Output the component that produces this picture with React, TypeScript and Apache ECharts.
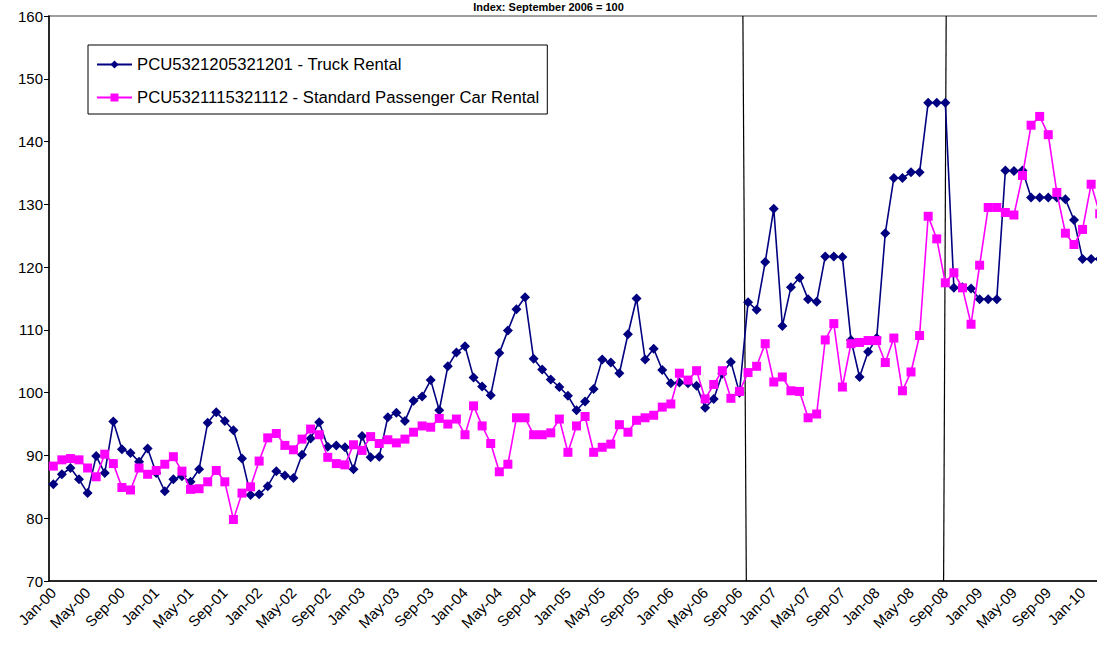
import React, { useEffect, useRef } from "react";
import * as echarts from "echarts";

const TITLE = "Index: September 2006 = 100";
const TRUCK_NAME = "PCU5321205321201 - Truck Rental";
const CAR_NAME = "PCU5321115321112 - Standard Passenger Car Rental";

const MONTHS = ["Jan", "Feb", "Mar", "Apr", "May", "Jun", "Jul", "Aug", "Sep", "Oct", "Nov", "Dec"];
const YEARS = ["00", "01", "02", "03", "04", "05", "06", "07", "08", "09", "10"];
const MONTH_COUNT = 123; // Jan-00 .. Mar-10

const categories: string[] = [];
for (let i = 0; i < MONTH_COUNT; i++) {
  categories.push(MONTHS[i % 12] + "-" + YEARS[Math.floor(i / 12)]);
}

const truck = [
  85.4, 87.0, 88.0, 86.2, 84.0, 89.9, 87.2, 95.4, 91.0, 90.4, 89.0, 91.1,
  87.2, 84.3, 86.2, 86.7, 85.8, 87.8, 95.2, 96.9, 95.5, 94.0, 89.5, 83.7,
  83.8, 85.1, 87.5, 86.8, 86.4, 90.1, 92.7, 95.3, 91.4, 91.6, 91.3, 87.8,
  93.1, 89.7, 89.8, 96.1, 96.8, 95.5, 98.7, 99.4, 102.0, 97.2, 104.2, 106.4,
  107.4, 102.4, 101.0, 99.6, 106.3, 109.9, 113.3, 115.2, 105.4, 103.7, 102.1, 100.9,
  99.5, 97.2, 98.6, 100.6, 105.3, 104.8, 103.1, 109.3, 115.0, 105.3, 107.0, 103.6,
  101.5, 101.6, 101.5, 101.1, 97.6, 99.0, 103.0, 104.9, 100.0, 114.4, 113.2, 120.8,
  129.3, 110.6, 116.8, 118.3, 114.9, 114.5, 121.7, 121.7, 121.6, 108.4, 102.5, 106.5,
  108.7, 125.4, 134.2, 134.2, 135.1, 135.1, 146.2, 146.2, 146.2, 116.7, 116.8, 116.6,
  114.9, 114.9, 114.9, 135.4, 135.3, 135.4, 131.1, 131.1, 131.1, 131.1, 130.8, 127.5,
  121.3, 121.3, 121.3,
];

const car = [
  88.3, 89.3, 89.5, 89.3, 88.0, 86.6, 90.2, 88.7, 84.9, 84.5, 88.0, 87.0,
  87.6, 88.6, 89.8, 87.5, 84.6, 84.7, 85.8, 87.6, 85.8, 79.8, 84.0, 85.0,
  89.1, 92.8, 93.5, 91.6, 90.9, 92.6, 94.2, 93.3, 89.7, 88.7, 88.5, 91.7,
  90.8, 93.0, 91.9, 92.5, 92.0, 92.6, 93.7, 94.7, 94.5, 95.9, 95.0, 95.8,
  93.3, 97.9, 94.7, 91.9, 87.4, 88.6, 96.0, 96.0, 93.3, 93.3, 93.6, 95.8,
  90.5, 94.7, 96.2, 90.5, 91.3, 91.8, 94.9, 93.7, 95.6, 96.0, 96.4, 97.7,
  98.2, 103.1, 102.0, 103.5, 99.0, 101.3, 103.5, 99.1, 100.2, 103.2, 104.2, 107.8,
  101.7, 102.5, 100.3, 100.2, 96.0, 96.6, 108.4, 111.0, 100.9, 107.8, 108.0, 108.3,
  108.3, 104.8, 108.7, 100.3, 103.3, 109.1, 128.1, 124.5, 117.5, 119.1, 116.7, 110.9,
  120.3, 129.5, 129.5, 128.7, 128.3, 134.6, 142.6, 144.0, 141.1, 131.9, 125.4, 123.6,
  126.0, 133.2, 128.5,
];

// Hand-drawn vertical marker lines, in month-position units (0 = left edge of Jan-00)
const markerLine1 = [[80.9, 160], [81.3, 70]];
const markerLine2 = [[104.6, 160], [104.3, 70]];

const FONT = "'Liberation Sans', Arial, sans-serif";

export default function App() {
  const ref = useRef<HTMLDivElement>(null);
  useEffect(() => {
    const chart = echarts.init(ref.current!, null, { renderer: "svg" });
    chart.setOption({
      animation: false,
      backgroundColor: "#ffffff",
      textStyle: { fontFamily: FONT },
      title: {
        text: TITLE,
        left: "center",
        top: -4,
        textStyle: { fontSize: 11, fontWeight: "bold", color: "#000", fontFamily: FONT },
      },
      legend: {
        data: [TRUCK_NAME, CAR_NAME],
        orient: "vertical",
        left: 88,
        top: 45,
        padding: [11, 8, 8, 8],
        itemGap: 16,
        itemWidth: 35,
        itemHeight: 10,
        backgroundColor: "#fff",
        borderColor: "#000",
        borderWidth: 1,
        textStyle: { fontSize: 16.7, color: "#000", fontFamily: FONT },
      },
      grid: {
        left: 49,
        width: 1055,
        top: 16,
        bottom: 68,
        containLabel: false,
        outerBoundsMode: "none",
        show: true,
        borderColor: "#808080",
        borderWidth: 1.5,
        backgroundColor: "transparent",
      },
      xAxis: [
        {
          type: "category",
          data: categories,
          boundaryGap: true,
          axisLine: { lineStyle: { color: "#000", width: 1.5 } },
          axisTick: { interval: 3, length: 5, lineStyle: { color: "#000", width: 1 } },
          axisLabel: { interval: 3, rotate: 45, fontSize: 15, color: "#000", margin: 9, fontFamily: FONT },
          splitLine: { show: false },
        },
        {
          type: "value",
          min: 0,
          max: MONTH_COUNT,
          show: false,
          position: "bottom",
        },
      ],
      yAxis: {
        type: "value",
        min: 70,
        max: 160,
        interval: 10,
        axisLine: { show: true, lineStyle: { color: "#000", width: 1.5 } },
        axisTick: { show: true, length: 5, lineStyle: { color: "#000" } },
        axisLabel: { fontSize: 15, color: "#000", margin: 6, fontFamily: FONT },
        splitLine: { show: false },
      },
      series: [
        {
          name: "marker1",
          type: "line",
          xAxisIndex: 1,
          data: markerLine1,
          symbol: "none",
          silent: true,
          lineStyle: { color: "#000", width: 1.2 },
          z: 1,
        },
        {
          name: "marker2",
          type: "line",
          xAxisIndex: 1,
          data: markerLine2,
          symbol: "none",
          silent: true,
          lineStyle: { color: "#000", width: 1.2 },
          z: 1,
        },
        {
          name: TRUCK_NAME,
          type: "line",
          data: truck,
          symbol: "diamond",
          symbolSize: 10,
          showAllSymbol: true,
          itemStyle: { color: "#000080" },
          lineStyle: { color: "#000080", width: 1.6 },
          z: 2,
        },
        {
          name: CAR_NAME,
          type: "line",
          data: car,
          symbol: "rect",
          symbolSize: 9,
          showAllSymbol: true,
          itemStyle: { color: "#FF00FF" },
          lineStyle: { color: "#FF00FF", width: 1.6 },
          z: 3,
        },
      ],
    });
    return () => chart.dispose();
  }, []);
  return (
    <div
      ref={ref}
      style={{ position: "absolute", left: 0, top: 0, width: 1097, height: 649, background: "#fff" }}
    />
  );
}
